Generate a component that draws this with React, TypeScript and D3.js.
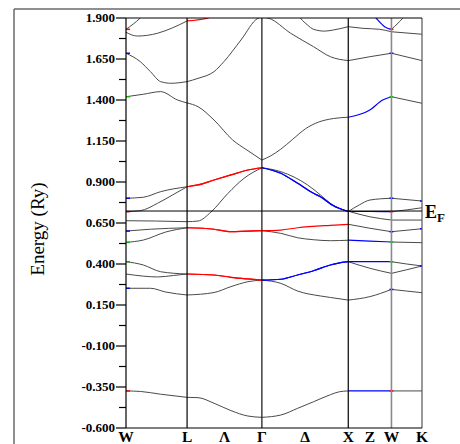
import React from 'react';
import * as d3 from 'd3';

type Pt = [number, number];
type Seg = Pt[] | null;

// high-symmetry points along the path (k in units of 2π/a)
const kPoints = [0, 0.7071, 1.5731, 2.5731, 3.0731, 3.4267];
const kLabels = ['W', 'L', 'Γ', 'X', 'W', 'K'];
const midLabels = ['', 'Λ', 'Δ', 'Z', ''];
const yTicks = [-0.6, -0.35, -0.1, 0.15, 0.4, 0.65, 0.9, 1.15, 1.4, 1.65, 1.9];
const tickLabels = ['-0.600', '-0.350', '-0.100', '0.150', '0.400', '0.650', '0.900', '1.150', '1.400', '1.650', '1.900'];
const fermiEnergy = 0.723;

// bands: 5 segments each (W-L, L-Γ, Γ-X, X-W, W-K)
const band1: Seg[] = [
  [[0, -0.374], [0.165, -0.377], [0.401, -0.394], [0.707, -0.413]],
  [[0.707, -0.413], [0.834, -0.415], [1.019, -0.449], [1.215, -0.494], [1.411, -0.527], [1.573, -0.535]],
  [[1.573, -0.535], [1.792, -0.521], [1.987, -0.48], [2.171, -0.44], [2.366, -0.397], [2.47, -0.379], [2.573, -0.374]],
  [[2.573, -0.374], [3.073, -0.374]],
  [[3.073, -0.374], [3.427, -0.374]],
];
const band2: Seg[] = [
  [[0, 0.252], [0.283, 0.252], [0.46, 0.229], [0.707, 0.211]],
  [[0.707, 0.211], [1.019, 0.226], [1.215, 0.262], [1.411, 0.292], [1.573, 0.302]],
  [[1.573, 0.302], [1.792, 0.282], [1.987, 0.235], [2.251, 0.205], [2.366, 0.196], [2.573, 0.18]],
  [[2.573, 0.18], [2.823, 0.201], [3.073, 0.245]],
  [[3.073, 0.245], [3.25, 0.235], [3.427, 0.225]],
];
const band3: Seg[] = [
  [[0, 0.339], [0.2, 0.326], [0.365, 0.321], [0.55, 0.33], [0.707, 0.339]],
  [[0.707, 0.339], [1.019, 0.333], [1.215, 0.319], [1.411, 0.309], [1.573, 0.302]],
  [[1.573, 0.302], [1.792, 0.307], [1.987, 0.333], [2.171, 0.359], [2.366, 0.394], [2.447, 0.404], [2.573, 0.414]],
  [[2.573, 0.414], [2.823, 0.374], [3.073, 0.343]],
  [[3.073, 0.343], [3.25, 0.365], [3.427, 0.388]],
];
const band4: Seg[] = [
  [[0, 0.414], [0.2, 0.394], [0.401, 0.353], [0.707, 0.339]],
  [[0.707, 0.339], [1.019, 0.333], [1.215, 0.319], [1.411, 0.309], [1.573, 0.302]],
  [[1.573, 0.302], [1.792, 0.307], [1.987, 0.333], [2.171, 0.359], [2.366, 0.394], [2.447, 0.404], [2.573, 0.414]],
  [[2.573, 0.414], [2.823, 0.414], [3.073, 0.414]],
  [[3.073, 0.414], [3.25, 0.4], [3.427, 0.388]],
];
const band5: Seg[] = [
  [[0, 0.532], [0.2, 0.546], [0.46, 0.595], [0.707, 0.621]],
  [[0.707, 0.621], [1.019, 0.612], [1.215, 0.597], [1.411, 0.601], [1.573, 0.603]],
  [[1.573, 0.603], [1.792, 0.587], [1.987, 0.56], [2.171, 0.548], [2.366, 0.542], [2.573, 0.545]],
  [[2.573, 0.545], [2.823, 0.54], [3.073, 0.534]],
  [[3.073, 0.534], [3.427, 0.53]],
];
const band6: Seg[] = [
  [[0, 0.601], [0.283, 0.612], [0.707, 0.621]],
  [[0.707, 0.621], [1.019, 0.612], [1.215, 0.597], [1.411, 0.601], [1.573, 0.603]],
  [[1.573, 0.603], [1.792, 0.607], [1.987, 0.621], [2.366, 0.636], [2.573, 0.642]],
  [[2.573, 0.642], [2.823, 0.618], [3.073, 0.597]],
  [[3.073, 0.597], [3.427, 0.615]],
];
const band7: Seg[] = [
  [[0, 0.664], [0.354, 0.662], [0.707, 0.658]],
  [[0.707, 0.658], [0.834, 0.662], [0.984, 0.717], [1.181, 0.831], [1.365, 0.922], [1.573, 0.987]],
  [[1.573, 0.987], [1.792, 0.963], [2.102, 0.882], [2.251, 0.821], [2.366, 0.77], [2.447, 0.745], [2.573, 0.722]],
  [[2.573, 0.722], [2.823, 0.688], [3.073, 0.668]],
  [[3.073, 0.668], [3.427, 0.668]],
];
const band8: Seg[] = [
  [[0, 0.719], [0.165, 0.725], [0.365, 0.77], [0.539, 0.821], [0.707, 0.871]],
  [[0.707, 0.871], [0.834, 0.882], [1.019, 0.912], [1.215, 0.943], [1.411, 0.973], [1.573, 0.987]],
  [[1.573, 0.987], [1.792, 0.953], [1.987, 0.892], [2.171, 0.831], [2.251, 0.81], [2.401, 0.755], [2.573, 0.72]],
  [[2.573, 0.72], [2.823, 0.72], [3.073, 0.719]],
  [[3.073, 0.719], [3.25, 0.73], [3.427, 0.743]],
];
const band9: Seg[] = [
  [[0, 0.801], [0.2, 0.807], [0.401, 0.841], [0.707, 0.871]],
  [[0.707, 0.871], [0.834, 0.882], [1.019, 0.912], [1.215, 0.943], [1.411, 0.973], [1.573, 0.987]],
  [[1.573, 0.987], [1.792, 0.953], [1.987, 0.892], [2.171, 0.831], [2.251, 0.81], [2.401, 0.755], [2.573, 0.72]],
  [[2.573, 0.72], [2.7, 0.76], [2.823, 0.79], [3.073, 0.801]],
  [[3.073, 0.801], [3.427, 0.784]],
];
const band10: Seg[] = [
  [[0, 1.42], [0.2, 1.435], [0.401, 1.451], [0.597, 1.4], [0.707, 1.382]],
  [[0.707, 1.382], [0.834, 1.359], [1.019, 1.278], [1.235, 1.156], [1.4, 1.095], [1.573, 1.034]],
  [[1.573, 1.034], [1.677, 1.06], [1.792, 1.1], [1.929, 1.16], [2.079, 1.225], [2.228, 1.265], [2.401, 1.287], [2.573, 1.295]],
  [[2.573, 1.295], [2.823, 1.339], [2.971, 1.4], [3.073, 1.42]],
  [[3.073, 1.42], [3.25, 1.4], [3.427, 1.38]],
];
const band11: Seg[] = [
  [[0, 1.685], [0.165, 1.634], [0.283, 1.573], [0.401, 1.512], [0.519, 1.502], [0.707, 1.512]],
  [[0.707, 1.512], [0.834, 1.532], [1.019, 1.573], [1.134, 1.634], [1.331, 1.766], [1.527, 1.898], [1.573, 1.905]],
  [[1.573, 1.905], [1.654, 1.898], [1.906, 1.807], [2.171, 1.725], [2.366, 1.664], [2.573, 1.64]],
  [[2.573, 1.64], [2.823, 1.664], [3.073, 1.685]],
  [[3.073, 1.685], [3.427, 1.64]],
];
const band12: Seg[] = [
  [[0, 1.813], [0.13, 1.79], [0.365, 1.807], [0.539, 1.84], [0.707, 1.882]],
  [[0.707, 1.882], [0.95, 1.9], [1.2, 1.99], [1.573, 2.1]],
  [[1.573, 2.1], [1.9, 2.0], [2.021, 1.898], [2.102, 1.857], [2.171, 1.831], [2.3, 1.82], [2.401, 1.827], [2.573, 1.847]],
  [[2.573, 1.847], [2.744, 1.837], [2.937, 1.831], [3.073, 1.816]],
  [[3.073, 1.816], [3.427, 1.801]],
];
const band13: Seg[] = [
  [[0, 1.831], [0.165, 1.9], [0.3, 1.98]],
  null,
  null,
  [[2.78, 1.98], [2.914, 1.888], [2.994, 1.847], [3.073, 1.831]],
  [[3.073, 1.831], [3.203, 1.898], [3.3, 1.96]],
];

const bands = [band1, band2, band3, band4, band5, band6, band7, band8, band9, band10, band11, band12, band13];
const bandColors = [
  ['g', 'g', 'g', 'b', 'g'],
  ['g', 'g', 'g', 'g', 'g'],
  ['g', 'r', 'b', 'g', 'g'],
  ['g', 'r', 'b', 'b', 'g'],
  ['g', 'r', 'g', 'b', 'g'],
  ['g', 'r', 'r', 'g', 'g'],
  ['g', 'g', 'g', 'g', 'g'],
  ['g', 'r', 'b', 'b', 'g'],
  ['g', 'r', 'b', 'g', 'g'],
  ['g', 'g', 'g', 'b', 'g'],
  ['g', 'g', 'g', 'g', 'g'],
  ['g', 'r', 'g', 'g', 'g'],
  ['g', 'g', 'g', 'b', 'g'],
];
// small colored character marks at the W and K points
const marks: [number, number, string][] = [
  [0, -0.374, 'r'], [0, 0.252, 'b'], [0, 0.414, 'n'], [0, 0.532, 'n'], [0, 0.601, 'b'],
  [0, 0.719, 'r'], [0, 0.801, 'b'], [0, 1.42, 'n'], [0, 1.685, 'b'], [0, 1.831, 'r'],
  [3.073, -0.374, 'r'], [3.073, 0.245, 'b'], [3.073, 0.414, 'n'], [3.073, 0.534, 'n'], [3.073, 0.597, 'b'],
  [3.073, 0.719, 'r'], [3.073, 0.801, 'b'], [3.073, 1.42, 'n'], [3.073, 1.685, 'b'], [3.073, 1.831, 'r'],
  [3.427, 0.784, 'b'], [3.427, 0.615, 'b'], [3.427, 0.388, 'b'],
];

const colorMap: Record<string, string> = { g: '#4a4a4a', r: '#ff0000', b: '#0000ff', n: '#00c000' };

export default function App() {
  const x = d3.scaleLinear().domain([0, 3.4267]).range([126, 422]);
  const y = d3.scaleLinear().domain([-0.6, 1.9]).range([428, 18]);
  const line = d3.line<Pt>().x(d => x(d[0])).y(d => y(d[1])).curve(d3.curveMonotoneX);
  const minor = yTicks.slice(0, -1).map((t, i) => (t + yTicks[i + 1]) / 2);
  const x0 = x(0), x1 = x(3.4267), yTop = y(1.9), yBot = y(-0.6);
  const serif = '"Liberation Serif", "Times New Roman", serif';
  const vColors = ['#000', '#000', '#111', '#000', '#8a8a8a', '#555'];

  return (
    <svg width={460} height={444} style={{ position: 'absolute', left: 0, top: 0, background: '#fff' }}>
      <defs>
        <clipPath id="plotclip">
          <rect x={x0} y={yTop} width={x1 - x0} height={yBot - yTop} />
        </clipPath>
      </defs>
      <rect x={0} y={0} width={460} height={444} fill="#fff" />
      {/* outer frame */}
      <line x1={14} y1={9} x2={460} y2={9} stroke="#6a6a6a" strokeWidth={1.5} />
      <line x1={14} y1={9} x2={14} y2={444} stroke="#6a6a6a" strokeWidth={1.5} />

      {/* bands */}
      <g clipPath="url(#plotclip)" fill="none">
        {bands.map((b, bi) =>
          b.map((seg, si) =>
            seg ? (
              <path key={`${bi}-${si}`} d={line(seg) || ''} stroke={colorMap[bandColors[bi][si]]}
                strokeWidth={bandColors[bi][si] === 'g' ? 1 : 1.2} />
            ) : null
          )
        )}
        {marks.map((m, i) => (
          <line key={`m${i}`} x1={x(m[0]) - (m[0] === 0 ? 0 : 2)} x2={x(m[0]) + (m[0] === 0 ? 4 : 2)}
            y1={y(m[1])} y2={y(m[1])} stroke={colorMap[m[2]]} strokeWidth={1.5} />
        ))}
      </g>

      {/* vertical symmetry lines */}
      {kPoints.map((k, i) => (
        <line key={`v${i}`} x1={x(k)} x2={x(k)} y1={yTop} y2={yBot} stroke={vColors[i]}
          strokeWidth={i === 4 ? 1.6 : 1.2} />
      ))}
      {/* top and bottom border */}
      <line x1={x0} x2={x1} y1={yTop} y2={yTop} stroke="#000" strokeWidth={1.2} />
      <line x1={x0} x2={x1} y1={yBot} y2={yBot} stroke="#000" strokeWidth={1.2} />
      {/* Fermi level */}
      <line x1={x0} x2={x1} y1={y(fermiEnergy)} y2={y(fermiEnergy)} stroke="#000" strokeWidth={1} />

      {/* y ticks */}
      {yTicks.map((t, i) => (
        <g key={`t${i}`}>
          <line x1={x0 - 10} x2={x0} y1={y(t)} y2={y(t)} stroke="#000" strokeWidth={1.2} />
          <text x={x0 - 11} y={y(t) + 4} textAnchor="end" fontFamily={serif} fontWeight="bold" fontSize={13}>
            {tickLabels[i]}
          </text>
        </g>
      ))}
      {minor.map((t, i) => (
        <line key={`mn${i}`} x1={x0 - 7} x2={x0} y1={y(t)} y2={y(t)} stroke="#000" strokeWidth={1.2} />
      ))}

      {/* k labels */}
      {kPoints.map((k, i) => (
        <text key={`kl${i}`} x={x(k)} y={442} textAnchor="middle" fontFamily={serif} fontWeight="bold" fontSize={15.5}>
          {kLabels[i]}
        </text>
      ))}
      {midLabels.map((l, i) =>
        l ? (
          <text key={`ml${i}`} x={x((kPoints[i] + kPoints[i + 1]) / 2)} y={442} textAnchor="middle"
            fontFamily={serif} fontWeight="bold" fontSize={15.5}>
            {l}
          </text>
        ) : null
      )}

      {/* E_F label */}
      <text x={425} y={y(fermiEnergy) + 7} fontFamily={serif} fontWeight="bold" fontSize={18}>E</text>
      <text x={437} y={y(fermiEnergy) + 11} fontFamily={serif} fontWeight="bold" fontSize={13}>F</text>

      {/* axis title */}
      <text transform={`translate(44, ${(yTop + yBot) / 2 + 6}) rotate(-90)`} textAnchor="middle"
        fontFamily={serif} fontSize={19}>
        Energy (Ry)
      </text>
    </svg>
  );
}
